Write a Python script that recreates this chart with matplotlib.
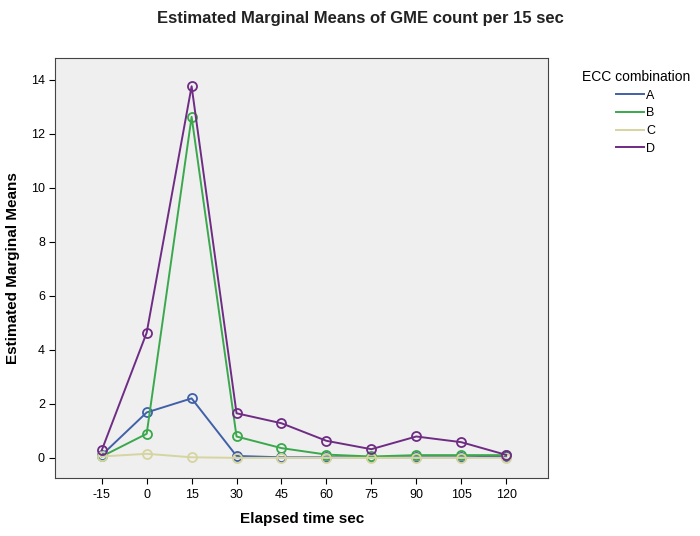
import matplotlib
matplotlib.use("Agg")
import matplotlib.pyplot as plt

plt.rcParams['font.family'] = ['Liberation Sans', 'DejaVu Sans']
plt.rcParams['axes.unicode_minus'] = False

# Elapsed time (sec) and estimated marginal means per ECC combination
times = [-15, 0, 15, 30, 45, 60, 75, 90, 105, 120]
mean_a = [0.10, 1.68, 2.20, 0.07, 0.02, 0.02, 0.02, 0.02, 0.02, 0.05]
mean_b = [0.05, 0.89, 12.62, 0.79, 0.36, 0.12, 0.05, 0.10, 0.10, 0.10]
mean_c = [0.05, 0.15, 0.02, 0.00, 0.00, 0.00, 0.00, 0.00, 0.00, 0.00]
mean_d = [0.28, 4.63, 13.75, 1.65, 1.28, 0.63, 0.32, 0.79, 0.58, 0.11]

groups = ['A', 'B', 'C', 'D']
colors = ['#4060a8', '#3aa84c', '#d6d4a0', '#6f2c84']

fig = plt.figure(figsize=(7, 5.36), dpi=100)
ax = fig.add_axes([0.079, 0.108, 0.704, 0.784])
ax.set_facecolor('#efefef')

for label, vals, c in zip(groups, [mean_a, mean_b, mean_c, mean_d], colors):
    ax.plot(times, vals, color=c, lw=1.4, marker='o', ms=6.5, mfc='none',
            mew=1.3, label=label)

ax.set_xlim(-30.5, 134)
ax.set_ylim(-0.75, 14.8)
ax.set_xticks(times)
ax.set_yticks(range(0, 15, 2))
ax.tick_params(labelsize=9, length=4)
for s in ax.spines.values():
    s.set_color('#444444')

ax.set_xlabel('Elapsed time sec', fontsize=11, fontweight='bold', labelpad=8)
ax.set_ylabel('Estimated Marginal Means', fontsize=11, fontweight='bold', labelpad=8)
fig.text(0.515, 0.965, 'Estimated Marginal Means of GME count per 15 sec',
         ha='center', va='center', fontsize=12, fontweight='bold', color='#222222')

leg = fig.legend(loc='upper left', bbox_to_anchor=(0.815, 0.89), frameon=False,
                 title='ECC combination', fontsize=9, title_fontsize=10,
                 handlelength=2.2, handletextpad=0.2, labelspacing=0.45)
for h in leg.legend_handles:
    h.set_marker('')

fig.savefig('out.png')
